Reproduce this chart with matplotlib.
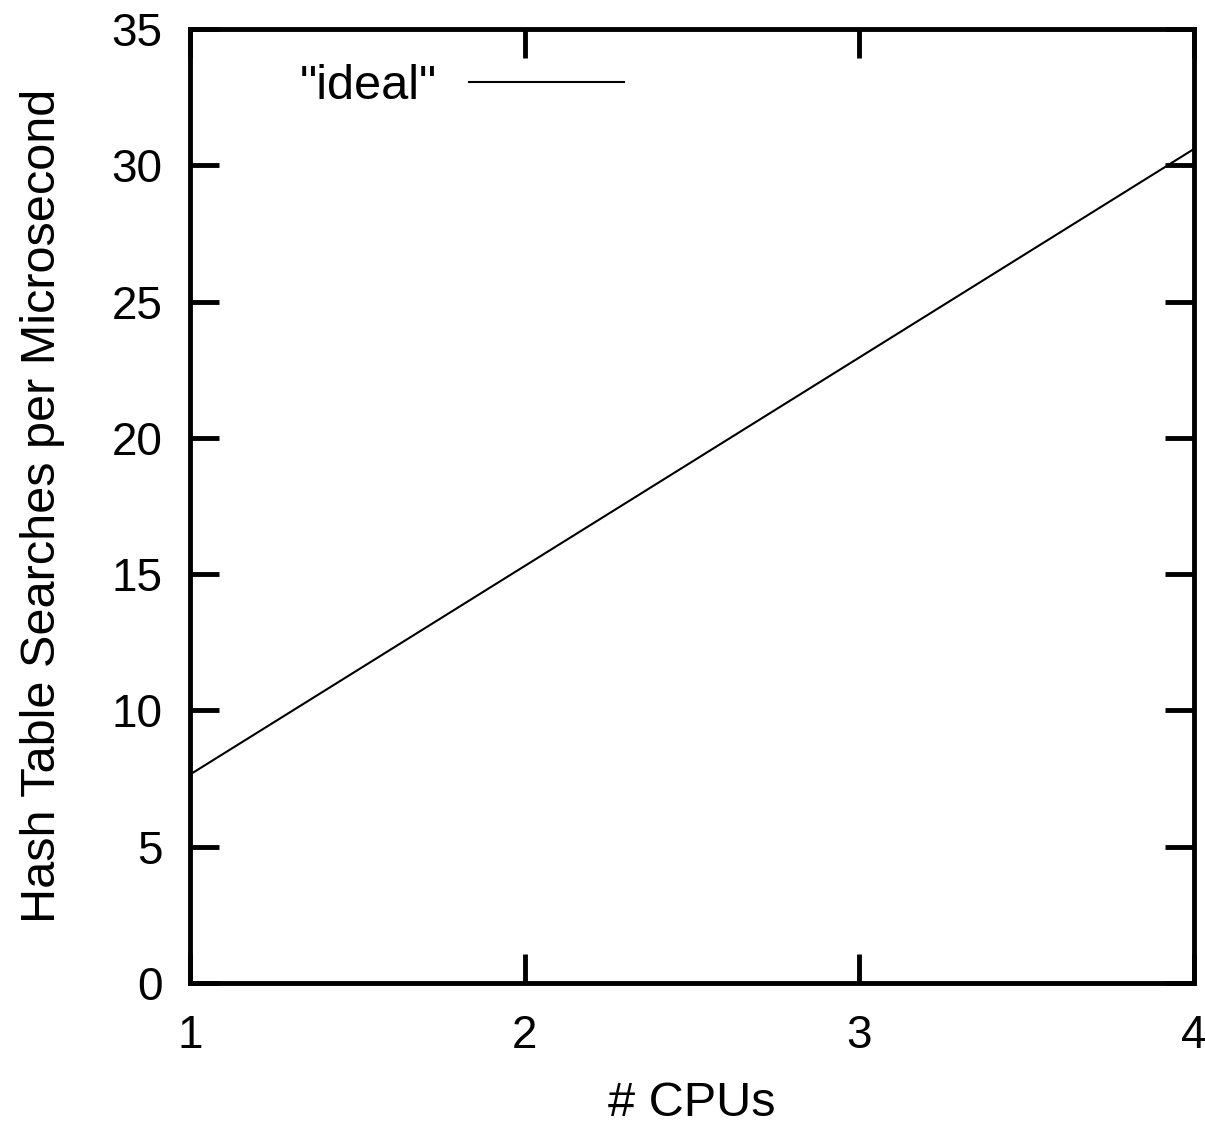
import matplotlib
matplotlib.use("Agg")
import matplotlib.pyplot as plt
import numpy as np

plt.rcParams['font.family'] = ['Liberation Sans', 'DejaVu Sans']

# ideal scaling: searches per microsecond vs CPU count
cpus = [1, 2, 3, 4]
ideal = [7.65, 15.3, 22.95, 30.6]

xticks = [1, 2, 3, 4]
yticks = [0, 5, 10, 15, 20, 25, 30, 35]

fig = plt.figure(figsize=(12.05, 11.28), dpi=100)
ax = fig.add_axes([0.1577, 0.1285, 0.9909 - 0.1577, 0.9743 - 0.1285])

ax.plot(cpus, ideal, color='black', lw=1.5, label='"ideal"')

ax.set_xlim(1, 4)
ax.set_ylim(0, 35)
ax.set_xticks(xticks)
ax.set_yticks(yticks)

for sp in ax.spines.values():
    sp.set_linewidth(3.5)

ax.tick_params(direction='in', length=21, width=3.5, labelsize=33,
               top=True, right=True, pad=20)
ax.tick_params(axis='x', pad=22)

ax.set_xlabel('# CPUs', fontsize=35, labelpad=17)
ax.set_ylabel('Hash Table Searches per Microsecond', fontsize=35, labelpad=33)

ax.legend(loc='upper right', bbox_to_anchor=(0.476, 1.009), frameon=False,
          markerfirst=False, handlelength=3.2, fontsize=35, handletextpad=0.65)

fig.savefig('out.png', dpi=100)
